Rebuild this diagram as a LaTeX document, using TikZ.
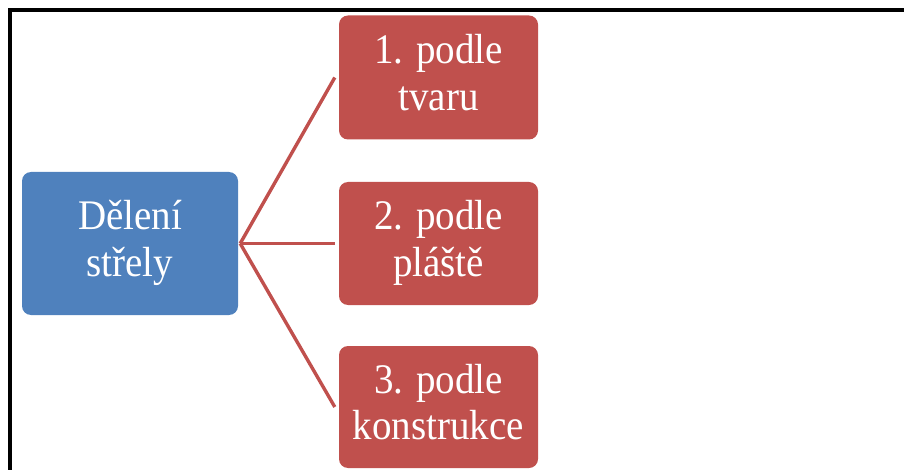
\documentclass[tikz,border=0pt]{standalone}
\usepackage{graphicx}
\usepackage{fontspec}
\setmainfont{Liberation Serif}
\definecolor{boxblue}{HTML}{4F81BD}
\definecolor{boxred}{HTML}{C0504D}
\newcommand{\twolines}[2]{\scalebox{1}[1.08]{\begin{tabular}{@{}c@{}}#1\\#2\end{tabular}}}
\begin{document}
\begin{tikzpicture}[x=1pt,y=-1pt,
  box/.style={rounded corners=9pt, text=white, align=center, inner sep=0pt,
    font=\fontsize{39}{43}\selectfont},
  bluebox/.style={box, fill=boxblue, minimum width=216pt, minimum height=143pt},
  redbox/.style={box, fill=boxred, minimum width=199pt, minimum height=124pt},
  conn/.style={draw=boxred, line width=3.4pt}]
\useasboundingbox (0,0) rectangle (904,470);
\clip (0,0) rectangle (904,470);
\draw[line width=4pt, line join=miter] (10.3,480) -- (10.3,10.3) -- (914,10.3);
\node[bluebox] (root) at (130,243.5) {\twolines{Dělení}{střely}};
\node[redbox] (r1) at (438.5,77.5) {\twolines{1. podle}{tvaru}};
\node[redbox, minimum height=123pt] (r2) at (438.5,243.5) {\twolines{2. podle}{pláště}};
\node[redbox, minimum height=122pt] (r3) at (438.5,407) {\twolines{3. podle}{konstrukce}};
\coordinate (hub) at ([xshift=2pt]root.east);
\draw[conn] (hub) -- ([xshift=-4pt]r1.west);
\draw[conn] (hub) -- ([xshift=-4pt]r2.west);
\draw[conn] (hub) -- ([xshift=-4pt]r3.west);
\end{tikzpicture}
\end{document}
